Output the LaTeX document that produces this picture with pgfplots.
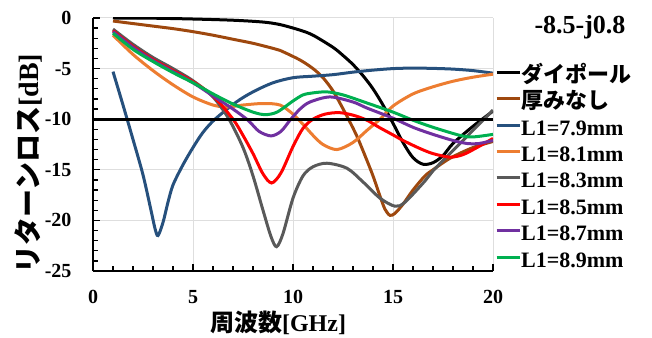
\documentclass[border=0pt]{standalone}
\usepackage{fontspec}
\setmainfont{Liberation Serif}
\newfontfamily\jp{Noto Sans CJK JP}
\usepackage{pgfplots}
\pgfplotsset{compat=1.18}
\definecolor{cbrown}{RGB}{158,72,14}
\definecolor{cblue}{RGB}{38,80,125}
\definecolor{corange}{RGB}{237,125,49}
\definecolor{cgray}{RGB}{89,89,89}
\definecolor{cred}{RGB}{255,0,0}
\definecolor{cpurple}{RGB}{112,48,160}
\definecolor{cgreen}{RGB}{0,176,80}
\begin{document}
\begin{tikzpicture}
\path[use as bounding box] (0,0) rectangle (652bp,338bp);
\begin{axis}[
  at={(93bp,67bp)}, anchor=south west,
  scale only axis, width=400bp, height=253bp,
  xmin=0, xmax=20, ymin=-25, ymax=0,
  axis x line*=bottom, axis y line*=left,
  axis line style={line width=1.8bp, black},
  xtick={0,5,10,15,20}, ytick={-25,-20,-15,-10,-5,0},
  minor x tick num=4, minor y tick num=4,
  tick align=inside,
  major tick length=7bp, minor tick length=5bp,
  every tick/.style={black, line width=1.3bp},
  grid=major, major grid style={line width=1bp, color=black!13},
  /pgf/number format/assume math mode=true,
  tick label style={font=\fontsize{20bp}{24bp}\selectfont\bfseries},
  xticklabel style={yshift=-16bp},
  yticklabel style={xshift=-18bp},
  xlabel={{\jp 周波数}[GHz]},
  ylabel={{\jp リターンロス}[dB]},
  xlabel style={font=\fontsize{24bp}{28bp}\selectfont\bfseries, at={(axis description cs:0.4625,0)}, anchor=center, yshift=-52bp},
  ylabel style={font=\fontsize{28bp}{32bp}\selectfont\bfseries, at={(axis description cs:-0.1625,0.425)}, anchor=center},
  legend style={at={(axis description cs:1.005,0.806)}, anchor=north west, draw=none, fill=none, inner sep=0pt, row sep=6.4bp,
    font=\fontsize{22bp}{26bp}\selectfont\bfseries, nodes={inner sep=0pt, text height=15bp, text depth=5bp}},
  legend cell align=left,
  legend image code/.code={\draw[#1] (0bp,5bp) -- (23bp,5bp);},
]
\addplot[black, line width=3bp, smooth] coordinates {
(1,0) (3,-0.02) (5,-0.1) (7,-0.22) (8.5,-0.4) (9.35,-0.65) (10.35,-1.2) (11,-1.7) (12,-2.9) (12.5,-3.7) (13,-4.6) (13.5,-5.7) (14,-7.0) (14.5,-8.6) (15,-10.4) (15.5,-12.3) (16,-13.8) (16.5,-14.45) (17,-14.3) (17.5,-13.6) (18,-12.4) (19,-10.7) (20,-9.2)};
\addlegendentry{{\jp ダイポール}}
\addplot[cbrown, line width=3bp, smooth] coordinates {
(1,-0.3) (2,-0.55) (3,-0.8) (4,-1.05) (5,-1.35) (6,-1.7) (7,-2.1) (8,-2.5) (9,-3.0) (9.35,-3.2) (10.35,-4.15) (11,-5.0) (11.5,-5.9) (12,-7.2) (12.4,-8.6) (12.8,-10.1) (13.2,-11.7) (13.6,-13.6) (14,-15.6) (14.35,-17.6) (14.6,-18.9) (14.85,-19.5) (15.1,-19.3) (15.5,-18.4) (16,-17.0) (16.6,-15.6) (17,-15.0) (17.5,-14.3) (18,-13.7) (19,-12.8) (20,-12.2)};
\addlegendentry{{\jp 厚みなし}}
\addplot[cblue, line width=3bp, smooth] coordinates {
(1,-5.3) (1.5,-8.6) (2,-12.0) (2.5,-15.5) (2.9,-19.0) (3.1,-20.8) (3.25,-21.5) (3.5,-20.2) (3.75,-18.2) (4.0,-16.5) (4.5,-14.5) (5,-12.8) (5.5,-11.3) (6.1,-10.0) (7.17,-8.3) (8,-7.3) (9,-6.4) (10,-5.9) (11,-5.75) (12,-5.6) (13,-5.35) (14,-5.15) (15,-5.0) (16,-4.95) (17,-4.98) (18,-5.05) (19,-5.2) (20,-5.45)};
\addlegendentry{L1=7.9mm}
\addplot[corange, line width=3bp, smooth] coordinates {
(1,-1.7) (2,-3.6) (3,-5.2) (4,-6.6) (5,-7.8) (6,-8.6) (6.7,-8.8) (7.5,-8.6) (8.5,-8.45) (9.35,-8.6) (10,-9.5) (10.5,-10.5) (11,-11.6) (11.5,-12.5) (12.2,-13.0) (13,-12.3) (13.7,-11.1) (14.35,-10.0) (15,-8.7) (16,-7.5) (17,-6.8) (18,-6.25) (19,-5.85) (20,-5.55)};
\addlegendentry{L1=8.1mm}
\addplot[cgray, line width=3bp, smooth] coordinates {
(1,-1.1) (2,-2.6) (3,-3.9) (4,-5.0) (5,-6.2) (6,-7.8) (6.8,-10.0) (7.5,-12.8) (8,-15.6) (8.5,-19.0) (8.9,-21.6) (9.18,-22.6) (9.5,-21.3) (10,-17.8) (10.5,-15.6) (11,-14.7) (11.7,-14.35) (12.7,-14.85) (13.5,-16.2) (14.35,-17.8) (15.1,-18.6) (15.6,-18.2) (16.6,-16.1) (17,-15.1) (18,-13.1) (19,-11.1) (20,-9.1)};
\addlegendentry{L1=8.3mm}
\addplot[cred, line width=3bp, smooth] coordinates {
(1,-1.25) (2,-2.8) (3,-4.1) (4,-5.2) (5,-6.3) (6,-7.7) (7,-10.0) (7.5,-11.6) (8,-13.4) (8.5,-15.4) (8.93,-16.3) (9.4,-15.3) (10,-12.7) (10.5,-10.9) (11,-10.0) (11.6,-9.5) (12.3,-9.35) (13,-9.6) (13.7,-10.1) (14.3,-10.8) (15,-11.55) (15.5,-12.1) (16.35,-12.9) (17,-13.4) (17.85,-13.75) (18.5,-13.5) (19.2,-12.8) (20,-11.9)};
\addlegendentry{L1=8.5mm}
\addplot[cpurple, line width=3bp, smooth] coordinates {
(1,-1.35) (2,-2.9) (3,-4.2) (4,-5.3) (5,-6.4) (6,-7.7) (7,-9.0) (7.75,-10.1) (8.3,-11.2) (8.9,-11.65) (9.4,-11.2) (9.85,-10.1) (10.35,-9.0) (10.85,-8.3) (11.85,-7.8) (13,-8.3) (13.7,-8.9) (15,-9.9) (16,-10.8) (17,-11.5) (18,-12.1) (18.7,-12.4) (19.3,-12.4) (20,-12.1)};
\addlegendentry{L1=8.7mm}
\addplot[cgreen, line width=3bp, smooth] coordinates {
(1,-1.5) (2,-3.1) (3,-4.3) (4,-5.4) (5,-6.4) (6,-7.5) (7,-8.5) (8,-9.3) (8.6,-9.55) (9.2,-9.3) (10,-8.2) (10.5,-7.6) (11,-7.4) (11.7,-7.3) (12.5,-7.6) (13.7,-8.4) (15,-9.3) (16,-10.1) (17,-10.8) (18.35,-11.6) (19,-11.75) (20,-11.5)};
\addlegendentry{L1=8.9mm}
\addplot[black, line width=3bp, forget plot] coordinates {(0,-10) (20,-10)};
\end{axis}
\node[font=\fontsize{26bp}{30bp}\selectfont\bfseries] at (580bp,311bp) {-8.5-j0.8};
\end{tikzpicture}
\end{document}
